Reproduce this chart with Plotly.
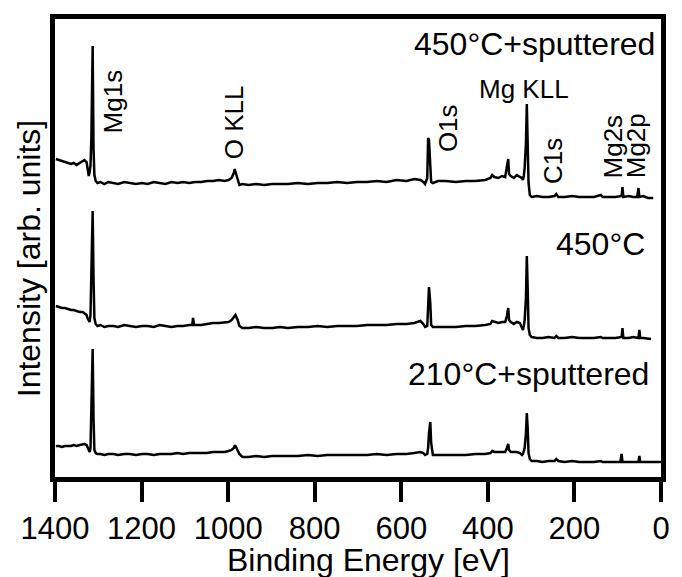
import plotly.graph_objects as go

# ---------------- data ----------------
# binding energy in eV, intensity in arbitrary units (offset stacked)
energy_top = [1398, 1391, 1384, 1377, 1370, 1363, 1357, 1350, 1343, 1336, 1332, 1327, 1325, 1322, 1320, 1318,
              1316, 1313, 1311, 1309, 1306, 1302, 1295, 1286, 1277, 1265, 1254, 1240, 1227, 1213, 1199, 1186,
              1172, 1158, 1145, 1131, 1117, 1104, 1090, 1076, 1062, 1049, 1035, 1021, 1008, 999, 992, 987, 985,
              983, 978, 974, 967, 953, 935, 917, 898, 880, 862, 839, 816, 793, 771, 748, 725, 702, 679, 657, 634,
              611, 588, 570, 556, 549, 545, 540, 538, 536, 533, 531, 527, 515, 497, 474, 451, 429, 406, 394, 390,
              385, 376, 367, 360, 356, 353, 351, 347, 340, 333, 326, 321, 319, 317, 315, 312, 310, 308, 306, 303,
              299, 287, 274, 260, 246, 242, 237, 223, 205, 189, 173, 155, 139, 135, 121, 105, 91, 89, 87, 75, 64,
              55, 52, 50, 41, 30, 18]
intensity_top = [319, 318, 317, 316, 315, 314, 315, 313, 315, 317, 318, 316, 310, 302, 306, 312,
                 340, 432, 330, 303, 297, 295, 296, 294, 296, 295, 294, 296, 295, 294, 295, 294,
                 296, 295, 294, 296, 295, 296, 295, 296, 296, 297, 297, 298, 297, 298, 300, 305, 309,
                 306, 298, 293, 294, 293, 294, 293, 294, 294, 294, 295, 294, 295, 295, 296, 295, 296, 296, 297, 296,
                 298, 297, 299, 298, 296, 294, 300, 340, 338, 310, 296, 295, 297, 297, 296, 297, 297, 298, 300, 303,
                 301, 300, 302, 301, 310, 319, 304, 302, 300, 303, 301, 300, 298, 302, 310, 335, 374, 330, 295, 283,
                 281, 282, 281, 281, 282, 284, 281, 281, 282, 281, 281, 281, 283, 281, 281, 281, 282, 291, 281, 282, 281,
                 281, 290, 281, 282, 280, 280]

energy_mid = [1398, 1391, 1384, 1377, 1370, 1363, 1357, 1350, 1343, 1336, 1332, 1327, 1325, 1322, 1320, 1318,
              1316, 1313, 1311, 1309, 1306, 1302, 1295, 1286, 1277, 1265, 1254, 1240, 1227, 1213, 1199, 1186,
              1172, 1158, 1145, 1131, 1117, 1104, 1090, 1083, 1081, 1079, 1062, 1049, 1035, 1021, 1008, 999, 992,
              987, 985, 983, 978, 974, 967, 953, 935, 917, 898, 880, 862, 839, 816, 793, 771, 748, 725, 702, 679,
              657, 634, 611, 588, 570, 556, 549, 545, 540, 538, 536, 533, 531, 527, 515, 497, 474, 451, 429, 406,
              394, 390, 385, 376, 367, 360, 356, 353, 351, 347, 340, 333, 326, 321, 319, 317, 315, 312, 310, 308,
              306, 303, 299, 287, 274, 260, 246, 242, 237, 223, 205, 189, 173, 155, 139, 135, 121, 105, 91, 89, 87,
              75, 64, 55, 52, 50, 48, 41, 30, 23]
intensity_mid = [172, 171, 170, 170, 169, 168, 168, 167, 166, 166, 165, 163, 160, 157, 156, 163,
                 198, 267, 200, 160, 154, 152, 153, 151, 152, 152, 151, 153, 152, 151, 152, 152,
                 151, 153, 152, 151, 152, 152, 153, 153, 160, 153, 153, 154, 155, 155, 156, 156, 158,
                 161, 163, 163, 158, 152, 150, 150, 151, 150, 150, 151, 150, 151, 151, 152, 151, 152, 152, 152, 153,
                 153, 153, 154, 154, 155, 157, 154, 151, 152, 170, 191, 175, 153, 151, 151, 151, 151, 152, 152, 153,
                 154, 157, 156, 155, 156, 156, 162, 170, 158, 156, 154, 156, 155, 150, 148, 152, 158, 180, 222, 190,
                 150, 143, 141, 140, 140, 141, 140, 142, 140, 140, 141, 140, 140, 140, 141, 140, 140, 140, 141, 150, 140,
                 140, 141, 140, 140, 148, 140, 140, 139, 139]

energy_bot = [1398, 1391, 1384, 1377, 1370, 1363, 1357, 1350, 1343, 1336, 1332, 1327, 1325, 1322, 1320, 1318,
              1316, 1313, 1311, 1309, 1306, 1302, 1295, 1286, 1277, 1265, 1254, 1240, 1227, 1213, 1199, 1186,
              1172, 1158, 1145, 1131, 1117, 1104, 1090, 1076, 1062, 1049, 1035, 1021, 1008, 999, 992, 987, 985,
              983, 978, 974, 967, 953, 935, 917, 898, 880, 862, 839, 816, 793, 771, 748, 725, 702, 679, 657, 634,
              611, 588, 570, 556, 549, 545, 540, 538, 536, 533, 531, 527, 515, 497, 474, 451, 429, 406, 394, 390,
              385, 376, 367, 360, 356, 353, 351, 347, 340, 333, 326, 321, 319, 317, 315, 312, 310, 308, 306, 303,
              299, 287, 274, 260, 246, 242, 237, 223, 205, 189, 173, 155, 139, 135, 121, 105, 94, 91, 89, 75, 64,
              52, 50, 48, 41, 30, 18, 0]
intensity_bot = [32, 32, 31, 32, 32, 32, 33, 32, 33, 34, 34, 33, 31, 28, 26, 30,
                 80, 129, 60, 28, 25, 24, 24, 23, 24, 24, 23, 24, 24, 23, 24, 24,
                 23, 24, 24, 24, 25, 24, 25, 25, 25, 25, 26, 26, 26, 27, 28, 30, 32,
                 32, 28, 24, 21, 21, 22, 21, 22, 22, 22, 22, 23, 22, 23, 23, 23, 23, 23, 24, 23,
                 24, 24, 25, 26, 25, 23, 24, 30, 45, 56, 35, 23, 23, 23, 23, 23, 24, 24, 25, 27,
                 26, 26, 26, 26, 30, 34, 28, 26, 26, 26, 25, 23, 24, 27, 30, 45, 65, 50, 25, 19,
                 17, 17, 16, 17, 17, 19, 17, 16, 17, 16, 16, 16, 17, 16, 16, 16, 16, 24, 16, 16, 16,
                 16, 22, 16, 16, 16, 16, 16]

x_ticks = [0, 200, 400, 600, 800, 1000, 1200, 1400]

sample_labels = ["450°C+sputtered", "450°C", "210°C+sputtered"]
peak_labels = ["Mg1s", "O KLL", "O1s", "Mg KLL", "C1s", "Mg2s", "Mg2p"]

# ---------------- layout geometry (pixels) ----------------
W, H = 682, 577
L, R, T, B = 55, 15, 19, 100
PW, PH = W - L - R, H - T - B


def px(x):
    return (x - L) / PW


def py(y):
    return (H - B - y) / PH


FONT = "Liberation Sans, Arial, Helvetica, sans-serif"

fig = go.Figure()
for e, i in [(energy_top, intensity_top), (energy_mid, intensity_mid), (energy_bot, intensity_bot)]:
    fig.add_trace(go.Scatter(x=e, y=i, mode="lines",
                             line=dict(color="black", width=2.5),
                             showlegend=False, hoverinfo="skip"))

annotations = []
# sample labels (right-aligned)
for txt, (xr, yc) in zip(sample_labels, [(663, 44), (653, 244), (657, 374)]):
    annotations.append(dict(text=txt, xref="paper", yref="paper", x=px(xr), y=py(yc),
                            xanchor="right", yanchor="middle", showarrow=False,
                            font=dict(family=FONT, size=32, color="black")))
# peak labels
peak_pos = [(114, 101, -90), (236, 122, -90), (452, 128, -90), (529, 89, 0),
            (558, 161, -90), (619, 146, -90), (642, 146, -90)]
for txt, (xc, yc, ang) in zip(peak_labels, peak_pos):
    annotations.append(dict(text=txt, xref="paper", yref="paper", x=px(xc), y=py(yc),
                            xanchor="center", yanchor="middle", showarrow=False, textangle=ang,
                            font=dict(family=FONT, size=26, color="black")))
# axis titles
annotations.append(dict(text="Binding Energy [eV]", xref="paper", yref="paper", x=px(372), y=py(560),
                        xanchor="center", yanchor="middle", showarrow=False,
                        font=dict(family=FONT, size=32, color="black")))
annotations.append(dict(text="Intensity [arb. units]", xref="paper", yref="paper", x=px(29), y=py(259),
                        xanchor="center", yanchor="middle", showarrow=False, textangle=-90,
                        font=dict(family=FONT, size=32, color="black")))

fig.update_layout(
    width=W, height=H,
    margin=dict(l=L, r=R, t=T, b=B, pad=0),
    paper_bgcolor="white", plot_bgcolor="white",
    annotations=annotations,
    xaxis=dict(range=[1400, 0], tickvals=x_ticks, ticktext=[str(v) for v in x_ticks],
               ticks="outside", ticklen=20, tickwidth=4, tickcolor="black",
               showline=True, linewidth=5, linecolor="black", mirror=True,
               showgrid=False, zeroline=False,
               tickfont=dict(family=FONT, size=31, color="black")),
    yaxis=dict(range=[1, 459], showticklabels=False, ticks="",
               showline=True, linewidth=5, linecolor="black", mirror=True,
               showgrid=False, zeroline=False),
)

fig.write_html("out.html", config={"displayModeBar": False},
               post_script="document.body.style.margin='0';document.body.style.overflow='hidden';")
